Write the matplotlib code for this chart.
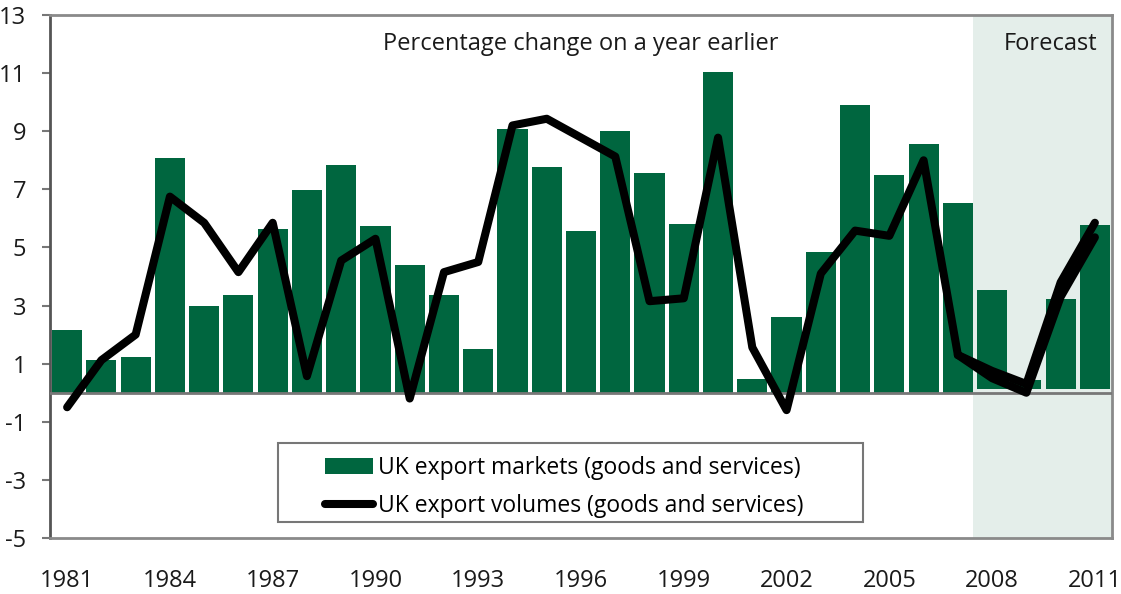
import matplotlib
matplotlib.use("Agg")
import matplotlib.pyplot as plt
from matplotlib.patches import Patch, Rectangle
from matplotlib.lines import Line2D

plt.rcParams['font.family'] = ['Open Sans', 'DejaVu Sans']
plt.rcParams['axes.unicode_minus'] = False

years = list(range(1981, 2012))
markets = [2.15, 1.12, 1.22, 8.09, 3.0, 3.35, 5.65, 6.98, 7.85, 5.75,
           4.4, 3.35, 1.5, 9.09, 7.78, 5.55, 9.02, 7.55, 5.82, 11.05,
           0.46, 2.6, 4.86, 9.91, 7.5, 8.57, 6.52, 3.52, 0.43, 3.21, 5.78]
volumes = [-0.5, 1.12, 2.0, 6.75, 5.85, 4.15, 5.85, 0.57, 4.55, 5.3,
           -0.2, 4.15, 4.5, 9.2, 9.43, 8.78, 8.13, 3.15, 3.25, 8.78,
           1.56, -0.6, 4.1, 5.58, 5.4, 8.0, 1.3]
fc_years = [2007, 2008, 2009, 2010, 2011]
fc_upper = [1.3, 0.75, 0.3, 3.8, 5.85]
fc_lower = [1.3, 0.5, 0.0, 3.3, 5.35]
forecast_start = 2007.45
yticks = list(range(-5, 14, 2))
xticks = list(range(1981, 2012, 3))

green = '#00663F'
shade = '#E4EEEA'

fig = plt.figure(figsize=(11.21, 5.94), dpi=100)
ax = fig.add_axes([0.0446, 0.0943, 0.9474, 0.8804])
ax.set_xlim(1980.5, 2011.5)
ax.set_ylim(-5, 13)

ax.axvspan(forecast_start, 2011.5, color=shade, zorder=0, lw=0)

hist_years = [y for y in years if y <= 2007]
fut_years = [y for y in years if y > 2007]
ax.bar(hist_years, markets[:len(hist_years)], width=0.88, color=green, zorder=2)
ax.bar(fut_years, [m - 0.13 for m in markets[len(hist_years):]], bottom=0.13,
       width=0.88, color=green, zorder=2)

ax.axhline(0, color='#777777', lw=2, zorder=3)

lw = 5.8
style = dict(color='black', lw=lw, solid_capstyle='round', solid_joinstyle='round', zorder=4)
ax.plot(years[:len(volumes)], volumes, **style)
ax.plot(fc_years, fc_upper, **style)
ax.plot(fc_years, fc_lower, **style)

ax.set_yticks(yticks)
ax.set_xticks(xticks)
ax.tick_params(axis='y', length=6, width=1.5, color='#777777', pad=11,
               labelsize=17, labelcolor='#1a1a1a')
ax.tick_params(axis='x', length=0, pad=22, labelsize=17, labelcolor='#1a1a1a')

for side in ['top', 'right', 'bottom']:
    ax.spines[side].set_color('#8a8a8a')
    ax.spines[side].set_linewidth(2)
ax.spines['left'].set_color('#555555')
ax.spines['left'].set_linewidth(2)

ax.text(1996.0, 12.0, 'Percentage change on a year earlier', ha='center', va='center',
        fontsize=17, color='#1a1a1a')
ax.text(2009.7, 12.0, 'Forecast', ha='center', va='center', fontsize=17, color='#1a1a1a')

# legend box
frame = Rectangle((0.215, 0.0306), 0.5505, 0.151, transform=ax.transAxes,
                  facecolor='white', edgecolor='#777777', lw=1.5, zorder=5)
ax.add_patch(frame)

handles = [Patch(facecolor=green, edgecolor='none'),
           Line2D([0], [0], color='black', lw=lw, solid_capstyle='round')]
labels = ['UK export markets (goods and services)', 'UK export volumes (goods and services)']
leg = ax.legend(handles, labels, loc='center left', bbox_to_anchor=(0.259, 0.097),
                fontsize=16.5, frameon=False, handlelength=2.1, handletextpad=0.2,
                borderpad=0, labelspacing=0.62, borderaxespad=0)
leg.set_zorder(6)

fig.savefig('out.png', dpi=100)
